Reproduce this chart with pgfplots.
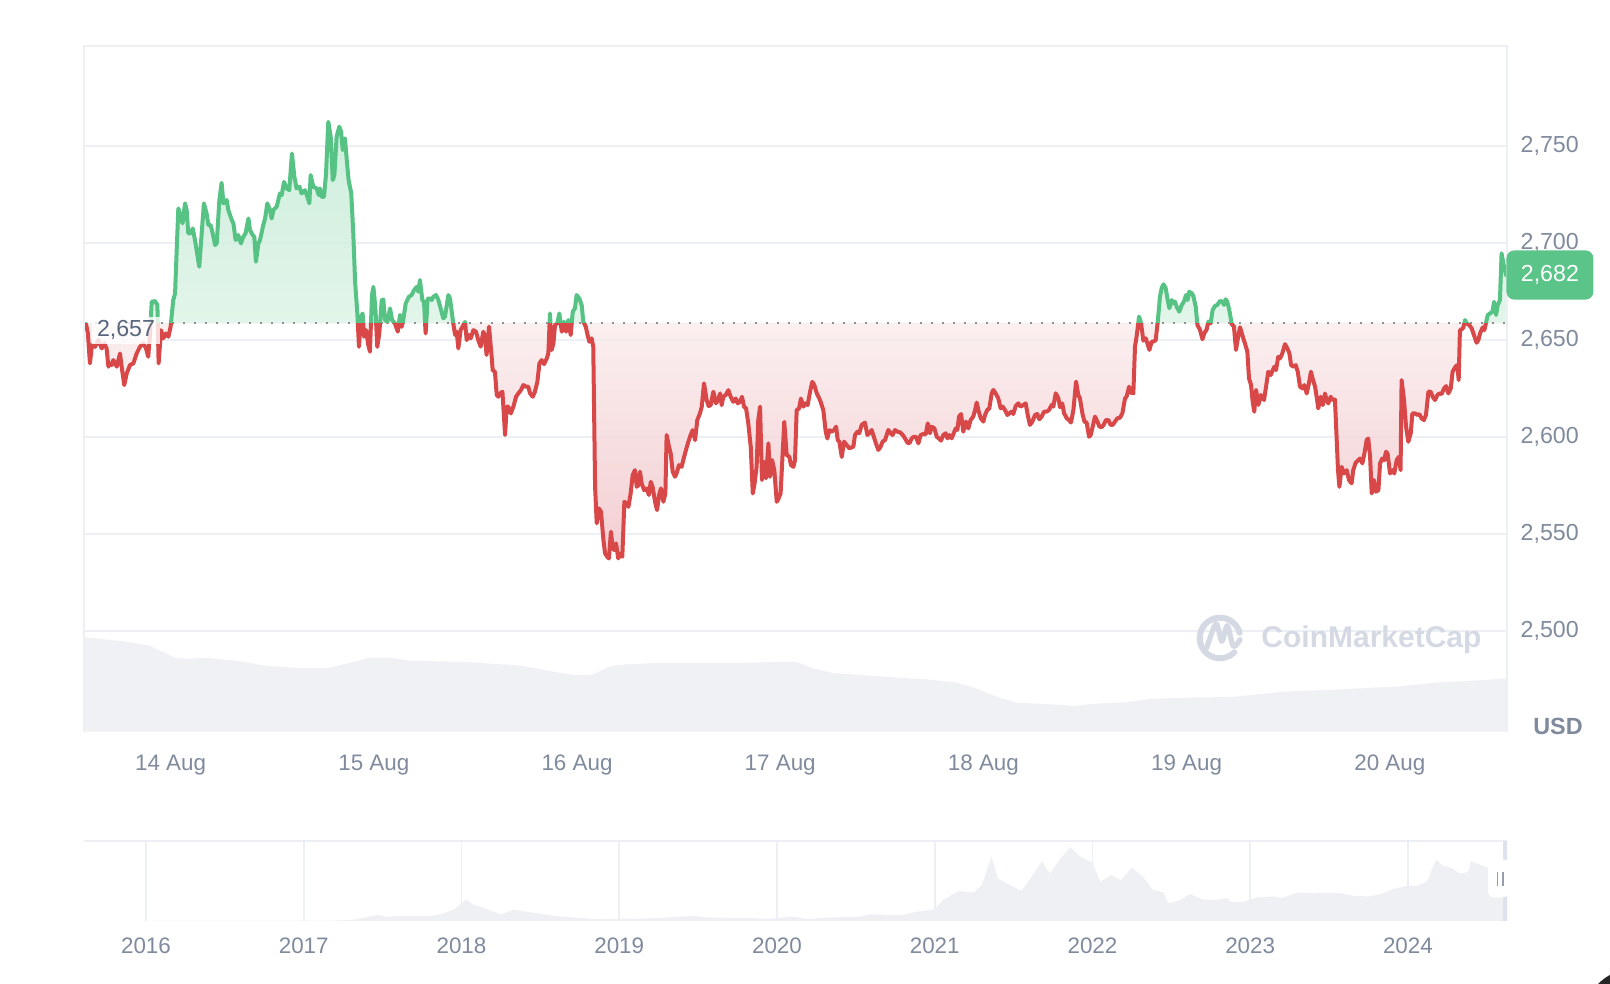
\documentclass[border=0pt]{standalone}
\usepackage{fontspec}
\setmainfont{Liberation Sans}
\usepackage{pgfplots}
\usepackage{pgfplotstable}
\pgfplotsset{compat=1.18}
\definecolor{tickc}{RGB}{128,138,157}
\definecolor{gridc}{RGB}{236,239,243}
\definecolor{lgreen}{RGB}{86,194,132}
\definecolor{lred}{RGB}{217,72,72}
\definecolor{tagc}{RGB}{91,196,136}
\definecolor{volc}{RGB}{240,241,245}
\definecolor{navc}{RGB}{238,240,244}
\definecolor{basec}{RGB}{140,143,150}
\definecolor{lblc}{RGB}{88,102,126}
\definecolor{wmc}{RGB}{212,217,228}
\definecolor{selc}{RGB}{221,226,236}
\definecolor{handc}{RGB}{150,158,177}
\definecolor{rfB}{RGB}{240,194,198}
\definecolor{rfT}{RGB}{250,235,236}
\definecolor{gfB}{RGB}{220,242,229}
\definecolor{gfT}{RGB}{192,234,211}
\pgfdeclareverticalshading{rfill}{100bp}{color(0bp)=(rfB); color(25bp)=(rfB); color(51.9bp)=(rfT); color(100bp)=(rfT)}
\pgfdeclareverticalshading{gfill}{100bp}{color(0bp)=(gfB); color(51.9bp)=(gfB); color(75bp)=(gfT); color(100bp)=(gfT)}
\newcommand{\fy}{\fontsize{11.6}{13}\selectfont}
\newcommand{\fx}{\fontsize{11.2}{13}\selectfont}

% price, x in days since 14 Aug 00:00
\pgfplotstableread{
d p
-0.416 2658.1
-0.407 2653.3
-0.397 2637.9
-0.387 2647.3
-0.372 2646.4
-0.356 2649.9
-0.339 2645.6
-0.326 2648.2
-0.315 2645.6
-0.306 2636.2
-0.298 2637.9
-0.290 2637.0
-0.282 2639.6
-0.265 2636.2
-0.249 2643.0
-0.241 2636.2
-0.228 2626.7
-0.216 2632.7
-0.200 2637.0
-0.183 2637.9
-0.167 2643.0
-0.151 2646.4
-0.134 2648.2
-0.121 2645.6
-0.110 2641.3
-0.101 2653.3
-0.093 2669.6
-0.077 2670.0
-0.065 2667.9
-0.059 2637.9
-0.047 2655.0
-0.036 2650.8
-0.023 2653.3
-0.011 2651.6
0.000 2656.7
0.013 2670.5
0.022 2673.9
0.030 2696.3
0.038 2717.7
0.050 2713.4
0.059 2710.0
0.071 2720.3
0.079 2716.9
0.087 2704.9
0.099 2704.9
0.109 2707.4
0.120 2701.4
0.141 2687.7
0.153 2704.9
0.164 2720.3
0.177 2715.1
0.186 2709.1
0.197 2709.1
0.207 2704.9
0.219 2698.8
0.227 2699.7
0.240 2722.0
0.251 2730.9
0.260 2720.3
0.276 2722.0
0.284 2716.9
0.301 2711.7
0.309 2710.0
0.320 2701.4
0.333 2704.0
0.346 2699.7
0.358 2703.1
0.369 2704.9
0.383 2712.5
0.391 2706.5
0.404 2704.0
0.412 2703.1
0.420 2690.2
0.432 2699.7
0.440 2701.4
0.456 2709.1
0.465 2712.5
0.476 2720.3
0.489 2716.9
0.497 2712.5
0.506 2716.9
0.522 2718.6
0.530 2722.0
0.538 2725.4
0.547 2724.6
0.558 2731.4
0.571 2728.0
0.584 2727.1
0.597 2746.0
0.609 2734.0
0.620 2728.0
0.634 2728.9
0.645 2725.4
0.661 2727.1
0.673 2723.7
0.683 2720.3
0.689 2734.9
0.702 2728.9
0.719 2728.0
0.729 2724.6
0.735 2728.0
0.743 2723.7
0.755 2723.7
0.765 2735.7
0.776 2762.3
0.788 2754.6
0.798 2732.3
0.806 2734.9
0.817 2754.6
0.830 2759.8
0.839 2757.2
0.847 2747.7
0.858 2753.8
0.867 2742.6
0.876 2732.3
0.889 2725.4
0.899 2704.9
0.908 2679.9
0.919 2663.6
0.927 2646.4
0.937 2661.9
0.945 2663.6
0.952 2651.6
0.962 2655.0
0.973 2647.3
0.981 2643.9
0.991 2673.1
0.998 2677.3
1.008 2666.2
1.017 2646.4
1.027 2653.3
1.039 2670.5
1.047 2670.8
1.055 2660.2
1.067 2659.3
1.080 2666.2
1.090 2660.2
1.104 2658.5
1.118 2654.2
1.129 2662.8
1.137 2656.7
1.145 2660.2
1.157 2668.8
1.173 2672.2
1.186 2673.1
1.198 2675.6
1.211 2677.3
1.219 2674.8
1.227 2680.8
1.239 2670.5
1.247 2669.6
1.255 2653.3
1.265 2671.3
1.277 2671.3
1.285 2670.5
1.293 2672.2
1.306 2673.1
1.318 2670.5
1.342 2661.1
1.350 2661.9
1.367 2673.1
1.375 2671.4
1.391 2658.5
1.400 2652.5
1.408 2654.2
1.416 2645.6
1.427 2655.0
1.441 2657.6
1.449 2659.3
1.457 2649.9
1.469 2652.5
1.477 2650.8
1.490 2655.0
1.503 2654.2
1.514 2649.9
1.526 2646.5
1.539 2654.2
1.547 2651.6
1.555 2642.2
1.567 2656.8
1.580 2641.3
1.585 2634.4
1.596 2633.6
1.605 2621.6
1.613 2620.7
1.621 2622.4
1.633 2623.3
1.646 2601.0
1.654 2615.6
1.662 2615.6
1.674 2612.1
1.687 2615.6
1.700 2620.7
1.711 2622.4
1.724 2624.1
1.736 2626.7
1.749 2625.9
1.760 2625.9
1.769 2622.4
1.782 2620.7
1.793 2623.3
1.805 2628.4
1.815 2637.9
1.826 2639.6
1.838 2637.5
1.851 2640.4
1.859 2643.0
1.867 2663.6
1.875 2644.7
1.884 2648.2
1.892 2657.6
1.903 2658.5
1.913 2663.6
1.925 2654.2
1.936 2659.3
1.946 2654.2
1.957 2660.2
1.969 2652.5
1.979 2664.5
1.990 2666.2
1.998 2673.1
2.011 2671.4
2.023 2667.9
2.031 2659.3
2.043 2656.8
2.052 2652.5
2.061 2649.0
2.072 2650.8
2.080 2646.5
2.089 2574.3
2.097 2555.5
2.108 2563.2
2.118 2561.5
2.130 2546.9
2.138 2540.0
2.149 2538.3
2.157 2537.4
2.167 2551.2
2.174 2544.3
2.182 2541.7
2.192 2545.2
2.203 2537.4
2.212 2540.0
2.223 2538.3
2.233 2566.6
2.244 2565.8
2.253 2564.0
2.264 2570.9
2.274 2580.4
2.285 2582.9
2.294 2574.3
2.302 2575.2
2.310 2582.1
2.318 2576.1
2.330 2572.6
2.343 2573.5
2.354 2570.1
2.363 2576.9
2.372 2574.3
2.384 2566.6
2.394 2562.3
2.404 2570.1
2.413 2573.5
2.425 2566.6
2.435 2570.9
2.441 2601.0
2.453 2594.9
2.461 2591.5
2.471 2582.1
2.482 2579.5
2.490 2581.2
2.502 2585.5
2.515 2584.6
2.523 2588.1
2.536 2593.2
2.548 2597.5
2.559 2601.0
2.569 2603.5
2.581 2598.4
2.592 2608.7
2.605 2612.1
2.614 2615.6
2.625 2627.6
2.638 2619.0
2.648 2615.9
2.658 2616.4
2.671 2623.3
2.684 2617.3
2.694 2619.0
2.704 2622.4
2.712 2616.4
2.720 2620.7
2.732 2621.6
2.745 2624.1
2.756 2620.7
2.769 2618.1
2.781 2619.8
2.791 2617.3
2.802 2618.1
2.812 2620.7
2.822 2615.6
2.832 2614.7
2.843 2607.0
2.855 2594.9
2.865 2570.9
2.874 2576.1
2.884 2584.6
2.892 2608.7
2.901 2615.6
2.910 2577.8
2.920 2587.2
2.930 2578.7
2.942 2596.7
2.950 2579.5
2.960 2588.1
2.971 2582.9
2.983 2566.6
2.992 2568.3
3.002 2570.9
3.020 2607.8
3.032 2590.7
3.045 2589.8
3.053 2585.5
3.065 2584.6
3.073 2588.1
3.081 2613.8
3.093 2614.7
3.102 2619.8
3.114 2615.6
3.125 2617.3
3.135 2616.4
3.147 2623.3
3.158 2628.4
3.168 2626.7
3.180 2622.4
3.196 2619.0
3.212 2613.9
3.224 2602.7
3.232 2599.2
3.242 2603.5
3.253 2602.7
3.265 2603.5
3.275 2605.3
3.283 2598.4
3.291 2597.5
3.303 2589.7
3.314 2597.6
3.327 2595.9
3.340 2594.1
3.360 2595.0
3.368 2601.0
3.380 2602.7
3.389 2601.9
3.401 2606.2
3.417 2607.4
3.429 2601.0
3.439 2601.9
3.450 2603.6
3.458 2601.0
3.471 2596.7
3.483 2593.3
3.494 2595.0
3.504 2597.6
3.516 2598.4
3.532 2603.6
3.544 2601.9
3.553 2601.0
3.565 2603.6
3.576 2602.7
3.590 2602.4
3.603 2601.0
3.614 2599.3
3.626 2597.1
3.636 2596.7
3.647 2599.3
3.658 2600.1
3.668 2600.1
3.680 2596.7
3.691 2601.0
3.704 2601.5
3.716 2601.3
3.726 2607.0
3.737 2601.9
3.745 2605.3
3.759 2604.4
3.770 2600.1
3.780 2599.3
3.791 2598.1
3.803 2601.0
3.814 2601.9
3.823 2599.3
3.832 2601.0
3.844 2599.3
3.855 2602.2
3.864 2604.4
3.872 2603.6
3.880 2610.5
3.890 2611.8
3.901 2602.7
3.914 2607.9
3.926 2604.4
3.937 2608.7
3.950 2610.5
3.959 2613.9
3.967 2617.7
3.977 2613.0
3.987 2609.6
4.000 2607.9
4.008 2611.3
4.019 2613.9
4.029 2614.7
4.041 2622.5
4.049 2624.2
4.060 2622.5
4.073 2619.9
4.085 2614.7
4.095 2615.6
4.106 2613.9
4.118 2611.3
4.128 2612.2
4.139 2613.0
4.147 2611.8
4.159 2615.9
4.172 2617.3
4.183 2615.6
4.197 2616.5
4.208 2617.3
4.218 2611.3
4.229 2606.2
4.241 2607.9
4.254 2611.3
4.265 2611.8
4.275 2609.1
4.287 2610.5
4.298 2613.0
4.311 2613.0
4.323 2613.9
4.336 2616.5
4.344 2615.6
4.356 2622.5
4.369 2619.9
4.377 2615.3
4.388 2617.3
4.397 2612.2
4.410 2609.6
4.421 2608.7
4.431 2607.4
4.443 2613.9
4.456 2628.5
4.467 2621.6
4.475 2619.9
4.487 2612.2
4.497 2607.9
4.508 2607.4
4.520 2600.1
4.528 2601.0
4.538 2605.3
4.549 2610.5
4.561 2607.9
4.571 2605.3
4.582 2605.0
4.593 2606.5
4.603 2608.7
4.615 2608.7
4.626 2606.2
4.636 2606.2
4.648 2607.9
4.659 2609.6
4.672 2609.9
4.684 2612.2
4.697 2619.9
4.705 2620.8
4.717 2625.9
4.725 2622.8
4.738 2622.5
4.746 2646.5
4.754 2651.7
4.766 2662.0
4.776 2658.5
4.787 2649.6
4.799 2650.8
4.807 2648.2
4.817 2644.8
4.828 2649.1
4.836 2649.1
4.848 2649.9
4.858 2659.4
4.869 2672.3
4.877 2676.6
4.886 2678.6
4.897 2676.6
4.907 2670.5
4.915 2666.3
4.927 2670.5
4.935 2668.8
4.943 2669.7
4.951 2667.1
4.964 2664.5
4.976 2668.0
4.987 2669.7
4.997 2673.1
5.005 2670.5
5.013 2674.8
5.025 2674.0
5.033 2672.6
5.045 2667.1
5.053 2657.7
5.066 2655.1
5.078 2650.3
5.087 2653.4
5.099 2655.4
5.107 2659.4
5.118 2658.5
5.128 2665.4
5.140 2667.5
5.151 2668.0
5.164 2670.0
5.176 2669.7
5.184 2668.0
5.192 2670.9
5.200 2669.7
5.210 2665.4
5.222 2658.2
5.233 2656.8
5.243 2644.8
5.255 2652.5
5.263 2656.5
5.274 2652.5
5.287 2648.2
5.299 2643.9
5.307 2630.2
5.317 2626.8
5.325 2618.2
5.333 2613.0
5.342 2624.2
5.353 2616.5
5.366 2621.6
5.381 2619.0
5.391 2625.9
5.402 2633.6
5.414 2631.9
5.424 2634.4
5.432 2636.2
5.440 2634.4
5.451 2641.3
5.460 2640.5
5.471 2643.0
5.484 2647.8
5.496 2645.6
5.506 2643.0
5.514 2637.0
5.525 2636.2
5.537 2637.0
5.547 2633.6
5.558 2625.9
5.570 2625.0
5.579 2626.7
5.591 2622.4
5.602 2627.6
5.612 2633.6
5.620 2630.1
5.632 2625.9
5.640 2620.7
5.648 2614.7
5.660 2620.7
5.670 2616.4
5.681 2622.4
5.689 2619.0
5.697 2617.3
5.709 2620.7
5.719 2619.0
5.730 2619.3
5.738 2600.1
5.745 2582.9
5.752 2574.3
5.763 2584.6
5.775 2581.2
5.788 2582.9
5.799 2577.8
5.812 2576.1
5.820 2582.9
5.832 2586.7
5.845 2588.1
5.853 2588.9
5.865 2586.4
5.875 2591.5
5.886 2598.4
5.894 2599.2
5.903 2589.8
5.911 2570.9
5.922 2577.8
5.932 2571.8
5.944 2572.6
5.952 2586.4
5.963 2588.9
5.973 2588.1
5.981 2592.4
5.989 2591.5
6.001 2581.2
6.014 2582.9
6.022 2581.2
6.034 2588.1
6.045 2589.8
6.053 2582.9
6.058 2629.3
6.070 2619.0
6.080 2605.2
6.091 2597.5
6.103 2601.8
6.111 2612.1
6.124 2612.1
6.136 2611.3
6.145 2611.8
6.157 2609.5
6.168 2608.7
6.178 2611.3
6.190 2623.3
6.201 2623.3
6.211 2620.7
6.222 2619.0
6.234 2621.6
6.244 2622.4
6.255 2622.1
6.267 2625.0
6.277 2626.2
6.288 2622.4
6.300 2625.0
6.309 2633.6
6.318 2635.3
6.326 2636.5
6.332 2637.0
6.339 2629.3
6.345 2655.0
6.354 2655.4
6.362 2656.4
6.370 2660.2
6.378 2658.5
6.391 2657.6
6.403 2655.9
6.414 2652.5
6.427 2648.5
6.436 2649.9
6.444 2653.3
6.457 2656.4
6.465 2655.0
6.473 2658.5
6.482 2662.8
6.493 2663.6
6.505 2664.5
6.513 2669.6
6.523 2662.8
6.531 2667.9
6.542 2670.5
6.550 2694.6
6.562 2687.7
6.572 2683.4
}\price

% 24h volume (relative units)
\pgfplotstableread{
d v
-0.4262 8.27
-0.334 8.10
-0.233 7.91
-0.106 7.55
-0.030 6.92
0.020 6.48
0.071 6.38
0.172 6.48
0.324 6.21
0.475 5.75
0.627 5.58
0.779 5.58
0.880 6.02
0.981 6.48
1.082 6.48
1.184 6.21
1.437 6.12
1.588 5.93
1.689 5.85
1.790 5.58
1.892 5.22
1.993 4.95
2.069 4.95
2.145 5.58
2.195 5.85
2.398 6.02
2.600 6.02
2.802 6.02
3.004 6.12
3.080 6.12
3.156 5.58
3.257 5.13
3.409 4.95
3.561 4.76
3.713 4.59
3.864 4.32
3.966 3.77
4.067 3.05
4.168 2.52
4.319 2.42
4.446 2.25
4.522 2.42
4.724 2.61
4.825 2.88
4.977 2.97
5.230 3.05
5.331 3.24
5.483 3.51
5.736 3.69
6.039 3.96
6.241 4.32
6.443 4.50
6.5783 4.67
}\volume

% long-term history for the navigator
\pgfplotstableread{
t p
2015.607 1
2015.8 1
2016.0 1
2016.1 5
2016.2 11
2016.3 8
2016.45 17
2016.5 12
2016.6 11
2016.8 11
2016.95 8
2017.1 11
2017.2 19
2017.3 50
2017.4 230
2017.47 380
2017.52 250
2017.6 300
2017.7 300
2017.8 290
2017.88 450
2017.95 720
2018.03 1350
2018.08 1000
2018.12 900
2018.2 600
2018.25 400
2018.33 700
2018.4 600
2018.5 450
2018.6 300
2018.7 220
2018.85 110
2018.95 120
2019.1 135
2019.25 170
2019.35 250
2019.48 310
2019.55 220
2019.7 180
2019.8 180
2019.95 130
2020.1 270
2020.2 110
2020.3 200
2020.4 230
2020.5 240
2020.6 420
2020.7 350
2020.8 380
2020.9 600
2021.0 730
2021.05 1300
2021.15 1900
2021.25 1800
2021.3 2300
2021.36 4100
2021.4 2700
2021.47 2300
2021.55 1900
2021.6 2600
2021.68 3800
2021.73 3000
2021.8 4000
2021.86 4700
2021.92 4100
2022.0 3700
2022.05 2500
2022.12 2900
2022.18 2600
2022.25 3400
2022.32 2800
2022.38 2000
2022.45 1800
2022.48 1100
2022.55 1300
2022.62 1700
2022.7 1350
2022.78 1330
2022.85 1450
2022.88 1200
2022.95 1200
2023.05 1500
2023.15 1550
2023.2 1450
2023.3 1800
2023.4 1750
2023.5 1800
2023.58 1750
2023.65 1600
2023.75 1550
2023.83 1700
2023.9 2000
2024.0 2250
2024.05 2200
2024.12 2500
2024.18 3900
2024.22 3500
2024.28 3350
2024.33 3000
2024.38 3100
2024.4 3800
2024.45 3600
2024.5 3400
2024.55 3300
2024.6 2600
2024.63 2650
}\history

\begin{document}
\begin{tikzpicture}
% volume (behind)
\begin{axis}[name=vol, at={(42pt,126.15pt)}, anchor=south west,
  scale only axis, width=711.65pt, height=342.75pt,
  xmin=-0.4262, xmax=6.5783, ymin=0, ymax=60, hide axis]
  \addplot[draw=none, fill=volc] table {\volume} \closedcycle;
\end{axis}

% main price axis
\begin{axis}[name=main, at={(42pt,126.15pt)}, anchor=south west,
  scale only axis, width=711.65pt, height=342.75pt,
  xmin=-0.4262, xmax=6.5783, ymin=2448.2, ymax=2801.25,
  axis line style={draw=none}, tick style={draw=none},
  ymajorgrids, grid style={draw=gridc, line width=0.9pt},
  xtick={0,1,2,3,4,5,6},
  xticklabels={14 Aug,15 Aug,16 Aug,17 Aug,18 Aug,19 Aug,20 Aug},
  ytick={2500,2550,2600,2650,2700,2750},
  yticklabel pos=right,
  xticklabel style={font=\fx, text=tickc, inner sep=0pt, anchor=base, yshift=-19.5pt},
  yticklabel style={font=\fy, text=tickc, inner sep=0pt, anchor=west, xshift=6.5pt,
    /pgf/number format/1000 sep={,}, /pgf/number format/assume math mode=true},
  ]
  \begin{scope}
    \clip (axis cs:-1,2658.5) rectangle (axis cs:8,2900);
    \addplot[draw=none, shade, shading=gfill, fill opacity=0.8] table {\price}
      -- (axis cs:6.572,2658.5) -- (axis cs:-0.416,2658.5) -- cycle;
  \end{scope}
  \begin{scope}
    \clip (axis cs:-1,2300) rectangle (axis cs:8,2658.5);
    \addplot[draw=none, shade, shading=rfill, fill opacity=0.8] table {\price}
      -- (axis cs:6.572,2658.5) -- (axis cs:-0.416,2658.5) -- cycle;
  \end{scope}
  \addplot[basec, line width=1pt, dash pattern=on 1pt off 4.5pt] coordinates {(-0.4262,2658.5) (6.5783,2658.5)};
  \begin{scope}
    \clip (axis cs:-1,2658.5) rectangle (axis cs:8,2900);
    \addplot[lgreen, line width=2pt, line join=round, line cap=round] table {\price};
  \end{scope}
  \begin{scope}
    \clip (axis cs:-1,2300) rectangle (axis cs:8,2658.5);
    \addplot[lred, line width=2pt, line join=round, line cap=round] table {\price};
  \end{scope}
  \coordinate (bl) at (axis cs:-0.4262,2658.5);
  \coordinate (lastp) at (axis cs:6.5783,2683.4);
\end{axis}
\draw[gridc, line width=0.9pt] (main.south west) -- (main.north west) -- (main.north east) -- (main.south east);

% navigator
\begin{axis}[name=nav, at={(42pt,31.6pt)}, anchor=south west,
  scale only axis, width=711.65pt, height=40.05pt,
  xmin=2015.607, xmax=2024.630, ymin=0, ymax=5100,
  axis line style={draw=none}, tick style={draw=none},
  xmajorgrids, grid style={draw=gridc, line width=0.9pt}, axis on top,
  xtick={2016,2017,2018,2019,2020,2021,2022,2023,2024},
  xticklabels={2016,2017,2018,2019,2020,2021,2022,2023,2024},
  ytick=\empty,
  xticklabel style={font=\fx, text=tickc, inner sep=0pt, anchor=base, yshift=-16.6pt},
  ]
  \addplot[draw=none, fill=navc] table {\history} \closedcycle;
\end{axis}
\draw[gridc, line width=0.9pt] (nav.north west) -- (nav.north east);
\fill[selc] (751.6pt,31.6pt) rectangle (753.65pt,71.65pt);
\fill[white, rounded corners=3pt] (744pt,43.35pt) rectangle (754.5pt,62.35pt);
\draw[handc, line width=0.8pt] (748.75pt,49pt) -- (748.75pt,56pt);
\draw[handc, line width=0.8pt] (751.5pt,49pt) -- (751.5pt,56pt);

% watermark
\draw[wmc, line width=3pt, line cap=round] (610pt,173pt) ++(15:10.15pt) arc[start angle=15, end angle=315, radius=10.15pt];
\draw[wmc, line width=2.6pt, line cap=round, line join=round] plot[smooth, tension=0.5] coordinates {(603.35pt,168pt) (608pt,180.15pt) (610.85pt,171.35pt) (613.65pt,179.15pt) (616.65pt,168.85pt) (620pt,172.15pt)};
\node[anchor=west, inner sep=0pt, text=wmc, font=\fontsize{15}{15}\selectfont\bfseries] at (630.5pt,172pt) {CoinMarketCap};

% labels
\node[anchor=west, fill=white, fill opacity=0.8, text opacity=1, inner xsep=2.5pt, inner ysep=2pt, font=\fy, text=lblc] at ([xshift=3.8pt,yshift=-3.5pt]bl) {2,657};
\node[anchor=west, fill=tagc, rounded corners=4pt, text=white, font=\fy, minimum height=24.65pt, minimum width=43.5pt, inner sep=0pt] at ([xshift=-0.65pt]lastp) {2,682};
\node[text=tickc, font=\fontsize{11.7}{13}\selectfont\bfseries, inner sep=0pt] at (779pt,129pt) {USD};
\fill[black!85] (799pt,0pt) .. controls (801pt,2pt) and (803pt,3.5pt) .. (805pt,4.5pt) -- (805pt,0pt) -- cycle;

\pgfresetboundingbox
\path[use as bounding box] (0,0) rectangle (805pt,492pt);
\end{tikzpicture}
\end{document}
